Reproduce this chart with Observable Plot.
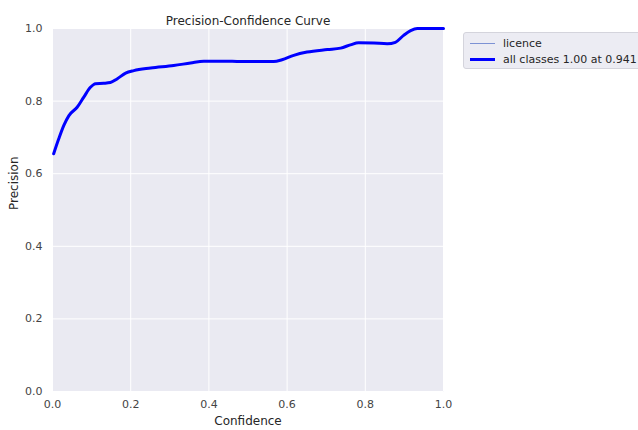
<!DOCTYPE html>
<html>
<head>
<meta charset="utf-8">
<script src="https://cdn.jsdelivr.net/npm/d3@7"></script>
<script src="https://cdn.jsdelivr.net/npm/@observablehq/plot@0.6"></script>
<style>
  body { margin: 0; background: #fff; font-family: "DejaVu Sans", sans-serif; }
  #wrap { position: relative; width: 638px; height: 430px; }
  #legend { position: absolute; left: 463px; top: 32px; width: 178px; height: 37px;
            box-sizing: border-box; border: 1px solid #d4d4dc; border-radius: 3px;
            background: #ececf3; font-size: 11px; color: #262626; }
  .row { position: absolute; left: 0; height: 14px; display: flex; align-items: center; }
  .sw { width: 25px; margin-left: 6px; margin-right: 8px; }
</style>
</head>
<body>
<div id="wrap">
  <div id="chart"></div>
  <div id="legend">
    <div class="row" style="top:3px"><div class="sw" style="border-top:1px solid #7d92d4"></div><span>licence</span></div>
    <div class="row" style="top:19px"><div class="sw" style="border-top:3px solid #0000ff"></div><span>all classes 1.00 at 0.941</span></div>
  </div>
</div>
<script>
const title = "Precision-Confidence Curve";
const xLabel = "Confidence";
const yLabel = "Precision";
const ticks = [0, 0.2, 0.4, 0.6, 0.8, 1.0];

const confidence = [0.003, 0.016, 0.029, 0.042, 0.063, 0.080, 0.097, 0.110, 0.131, 0.148, 0.165, 0.187, 0.208, 0.251, 0.310, 0.353, 0.387, 0.438, 0.481, 0.532, 0.566, 0.587, 0.617, 0.651, 0.703, 0.737, 0.762, 0.783, 0.822, 0.856, 0.877, 0.898, 0.916, 0.933, 1.0];
const precision  = [0.655, 0.696, 0.733, 0.760, 0.783, 0.811, 0.838, 0.848, 0.849, 0.851, 0.861, 0.877, 0.884, 0.891, 0.898, 0.905, 0.910, 0.910, 0.909, 0.909, 0.909, 0.914, 0.926, 0.935, 0.942, 0.946, 0.955, 0.961, 0.960, 0.958, 0.962, 0.981, 0.994, 1.0, 1.0];

const data = confidence.map((c, i) => ({c, p: precision[i]}));

const chart = Plot.plot({
  width: 638,
  height: 430,
  marginLeft: 52,
  marginRight: 195,
  marginTop: 28,
  marginBottom: 39,
  style: { fontFamily: "DejaVu Sans, sans-serif", fontSize: "11px", color: "#333" },
  x: { domain: [0, 1], ticks, tickFormat: d3.format(".1f"), tickSize: 0, tickPadding: 9, label: null },
  y: { domain: [0, 1], ticks, tickFormat: d3.format(".1f"), tickSize: 0, tickPadding: 10, label: null },
  marks: [
    Plot.frame({ fill: "#eaeaf2", stroke: null }),
    Plot.gridX(ticks, { stroke: "#fff", strokeOpacity: 1, strokeWidth: 1 }),
    Plot.gridY(ticks, { stroke: "#fff", strokeOpacity: 1, strokeWidth: 1 }),
    Plot.line(data, { x: "c", y: "p", stroke: "#7d92d4", strokeWidth: 1, curve: "monotone-x" }),
    Plot.line(data, { x: "c", y: "p", stroke: "#0000ff", strokeWidth: 3, curve: "monotone-x" }),
    Plot.axisX({ ticks, tickFormat: d3.format(".1f"), tickSize: 0, tickPadding: 9, label: null, fill: "#444" }),
    Plot.axisY({ ticks, tickFormat: d3.format(".1f"), tickSize: 0, tickPadding: 10, label: null, fill: "#444" }),
    Plot.text([title], { frameAnchor: "top", dy: -12, fontSize: 12, fill: "#262626" }),
    Plot.text([xLabel], { frameAnchor: "bottom", dy: 33, fontSize: 12, fill: "#262626" }),
    Plot.text([yLabel], { frameAnchor: "left", dx: -38, rotate: -90, fontSize: 12, fill: "#262626" })
  ]
});
document.getElementById("chart").appendChild(chart);
</script>
</body>
</html>
